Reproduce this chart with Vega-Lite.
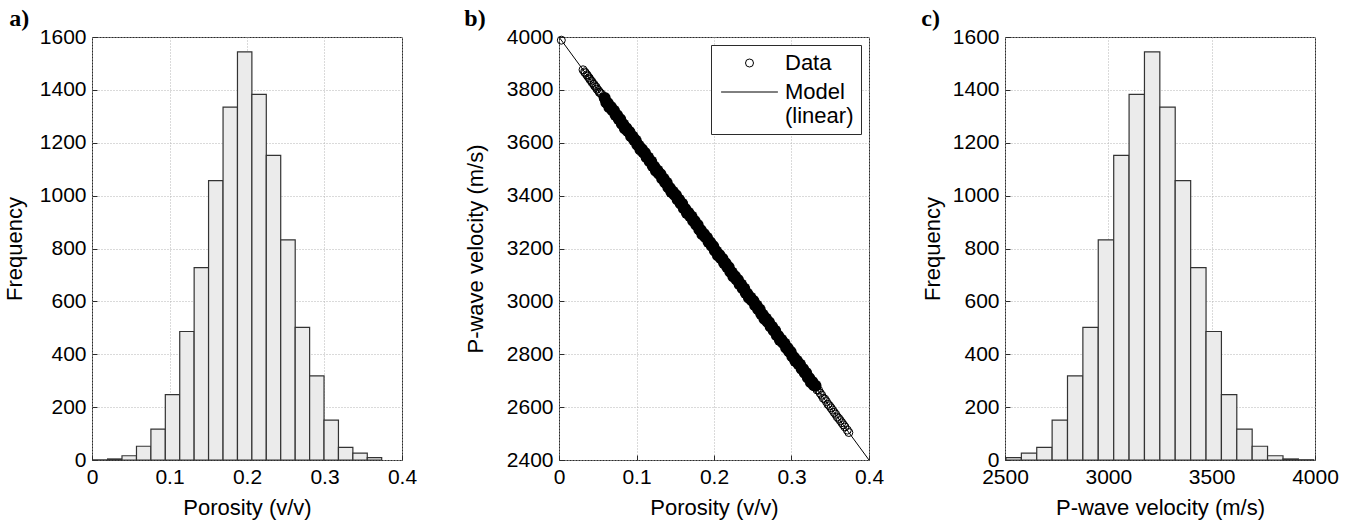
{
  "$schema": "https://vega.github.io/schema/vega-lite/v6.json",
  "background": "white",
  "padding": {"left": 2, "top": 6, "right": 5, "bottom": 5},
  "resolve": {"legend": {"shape": "independent"}},
  "spacing": 45,
  "config": {
    "font": "Liberation Sans",
    "view": {"stroke": "#2b2b2b", "strokeWidth": 1},
    "axis": {
      "labelFont": "Liberation Sans", "labelFontSize": 21, "labelColor": "#000",
      "titleFont": "Liberation Sans", "titleFontSize": 22, "titleFontWeight": "normal", "titleColor": "#000",
      "domain": false, "ticks": true, "tickSize": -5, "tickColor": "#2b2b2b",
      "grid": true, "gridColor": "#b5b5b5", "gridDash": [1, 2], "labelPadding": 11, "labelFlush": false
    },
    "axisX": {"titlePadding": 10},
    "title": {"font": "Liberation Serif", "fontSize": 24, "fontWeight": "bold", "color": "#000", "anchor": "start", "frame": "bounds", "offset": -5}
  },
  "datasets": {
    "hp": [
      {"lo": 0.0015, "hi": 0.0201, "n": 1}, {"lo": 0.0201, "hi": 0.0387, "n": 4}, {"lo": 0.0387, "hi": 0.0574, "n": 16},
      {"lo": 0.0574, "hi": 0.076, "n": 52}, {"lo": 0.076, "hi": 0.0946, "n": 117}, {"lo": 0.0946, "hi": 0.1132, "n": 247},
      {"lo": 0.1132, "hi": 0.1318, "n": 486}, {"lo": 0.1318, "hi": 0.1504, "n": 728}, {"lo": 0.1504, "hi": 0.1691, "n": 1057},
      {"lo": 0.1691, "hi": 0.1877, "n": 1335}, {"lo": 0.1877, "hi": 0.2063, "n": 1544}, {"lo": 0.2063, "hi": 0.2249, "n": 1383},
      {"lo": 0.2249, "hi": 0.2435, "n": 1152}, {"lo": 0.2435, "hi": 0.2622, "n": 833}, {"lo": 0.2622, "hi": 0.2808, "n": 502},
      {"lo": 0.2808, "hi": 0.2994, "n": 318}, {"lo": 0.2994, "hi": 0.318, "n": 151}, {"lo": 0.318, "hi": 0.3366, "n": 48},
      {"lo": 0.3366, "hi": 0.3552, "n": 26}, {"lo": 0.3552, "hi": 0.3738, "n": 9}
    ],
    "hv": [
      {"lo": 2504.8, "hi": 2579.2, "n": 9}, {"lo": 2579.2, "hi": 2653.6, "n": 26}, {"lo": 2653.6, "hi": 2728, "n": 48},
      {"lo": 2728, "hi": 2802.4, "n": 151}, {"lo": 2802.4, "hi": 2876.8, "n": 318}, {"lo": 2876.8, "hi": 2951.2, "n": 502},
      {"lo": 2951.2, "hi": 3026, "n": 833}, {"lo": 3026, "hi": 3100.4, "n": 1152}, {"lo": 3100.4, "hi": 3174.8, "n": 1383},
      {"lo": 3174.8, "hi": 3249.2, "n": 1544}, {"lo": 3249.2, "hi": 3323.6, "n": 1335}, {"lo": 3323.6, "hi": 3398.4, "n": 1057},
      {"lo": 3398.4, "hi": 3472.8, "n": 728}, {"lo": 3472.8, "hi": 3547.2, "n": 486}, {"lo": 3547.2, "hi": 3621.6, "n": 247},
      {"lo": 3621.6, "hi": 3696, "n": 117}, {"lo": 3696, "hi": 3770.4, "n": 52}, {"lo": 3770.4, "hi": 3845.2, "n": 16},
      {"lo": 3845.2, "hi": 3919.6, "n": 4}, {"lo": 3919.6, "hi": 3994, "n": 1}
    ],
    "model": [{"p": 0, "v": 4000}, {"p": 0.4, "v": 2400}],
    "pts": [
      {"p": 0.003, "v": 3988},
      {"p": 0.031, "v": 3876}, {"p": 0.033, "v": 3868}, {"p": 0.034, "v": 3864}, {"p": 0.036, "v": 3857}, {"p": 0.037, "v": 3852},
      {"p": 0.039, "v": 3845}, {"p": 0.04, "v": 3839}, {"p": 0.042, "v": 3833}, {"p": 0.043, "v": 3827}, {"p": 0.045, "v": 3821},
      {"p": 0.046, "v": 3815}, {"p": 0.048, "v": 3810}, {"p": 0.049, "v": 3803}, {"p": 0.051, "v": 3797}, {"p": 0.052, "v": 3791},
      {"p": 0.053, "v": 3789},
      {"p": 0.055, "v": 3784}, {"p": 0.057, "v": 3770}, {"p": 0.059, "v": 3769}, {"p": 0.061, "v": 3752}, {"p": 0.063, "v": 3749},
      {"p": 0.065, "v": 3734}, {"p": 0.067, "v": 3735}, {"p": 0.069, "v": 3723}, {"p": 0.071, "v": 3721}, {"p": 0.073, "v": 3705},
      {"p": 0.075, "v": 3704}, {"p": 0.077, "v": 3690}, {"p": 0.079, "v": 3689}, {"p": 0.081, "v": 3672}, {"p": 0.083, "v": 3669},
      {"p": 0.085, "v": 3654}, {"p": 0.087, "v": 3655}, {"p": 0.089, "v": 3643}, {"p": 0.091, "v": 3641}, {"p": 0.093, "v": 3625},
      {"p": 0.095, "v": 3624}, {"p": 0.097, "v": 3610}, {"p": 0.099, "v": 3609}, {"p": 0.101, "v": 3592}, {"p": 0.103, "v": 3589},
      {"p": 0.105, "v": 3574}, {"p": 0.107, "v": 3575}, {"p": 0.109, "v": 3563}, {"p": 0.111, "v": 3561}, {"p": 0.113, "v": 3545},
      {"p": 0.115, "v": 3544}, {"p": 0.117, "v": 3530}, {"p": 0.119, "v": 3529}, {"p": 0.121, "v": 3512}, {"p": 0.123, "v": 3509},
      {"p": 0.125, "v": 3494}, {"p": 0.127, "v": 3495}, {"p": 0.129, "v": 3483}, {"p": 0.131, "v": 3481}, {"p": 0.133, "v": 3465},
      {"p": 0.135, "v": 3464}, {"p": 0.137, "v": 3450}, {"p": 0.139, "v": 3449}, {"p": 0.141, "v": 3432}, {"p": 0.143, "v": 3429},
      {"p": 0.145, "v": 3414}, {"p": 0.147, "v": 3415}, {"p": 0.149, "v": 3403}, {"p": 0.151, "v": 3401}, {"p": 0.153, "v": 3385},
      {"p": 0.155, "v": 3384}, {"p": 0.157, "v": 3370}, {"p": 0.159, "v": 3369}, {"p": 0.161, "v": 3352}, {"p": 0.163, "v": 3349},
      {"p": 0.165, "v": 3334}, {"p": 0.167, "v": 3335}, {"p": 0.169, "v": 3323}, {"p": 0.171, "v": 3321}, {"p": 0.173, "v": 3305},
      {"p": 0.175, "v": 3304}, {"p": 0.177, "v": 3290}, {"p": 0.179, "v": 3289}, {"p": 0.181, "v": 3272}, {"p": 0.183, "v": 3269},
      {"p": 0.185, "v": 3254}, {"p": 0.187, "v": 3255}, {"p": 0.189, "v": 3243}, {"p": 0.191, "v": 3241}, {"p": 0.193, "v": 3225},
      {"p": 0.195, "v": 3224}, {"p": 0.197, "v": 3210}, {"p": 0.199, "v": 3209}, {"p": 0.201, "v": 3192}, {"p": 0.203, "v": 3189},
      {"p": 0.205, "v": 3174}, {"p": 0.207, "v": 3175}, {"p": 0.209, "v": 3163}, {"p": 0.211, "v": 3161}, {"p": 0.213, "v": 3145},
      {"p": 0.215, "v": 3144}, {"p": 0.217, "v": 3130}, {"p": 0.219, "v": 3129}, {"p": 0.221, "v": 3112}, {"p": 0.223, "v": 3109},
      {"p": 0.225, "v": 3094}, {"p": 0.227, "v": 3095}, {"p": 0.229, "v": 3083}, {"p": 0.231, "v": 3081}, {"p": 0.233, "v": 3065},
      {"p": 0.235, "v": 3064}, {"p": 0.237, "v": 3050}, {"p": 0.239, "v": 3049}, {"p": 0.241, "v": 3032}, {"p": 0.243, "v": 3029},
      {"p": 0.245, "v": 3014}, {"p": 0.247, "v": 3015}, {"p": 0.249, "v": 3003}, {"p": 0.251, "v": 3001}, {"p": 0.253, "v": 2985},
      {"p": 0.255, "v": 2984}, {"p": 0.257, "v": 2970}, {"p": 0.259, "v": 2969}, {"p": 0.261, "v": 2952}, {"p": 0.263, "v": 2949},
      {"p": 0.265, "v": 2934}, {"p": 0.267, "v": 2935}, {"p": 0.269, "v": 2923}, {"p": 0.271, "v": 2921}, {"p": 0.273, "v": 2905},
      {"p": 0.275, "v": 2904}, {"p": 0.277, "v": 2890}, {"p": 0.279, "v": 2889}, {"p": 0.281, "v": 2872}, {"p": 0.283, "v": 2869},
      {"p": 0.285, "v": 2854}, {"p": 0.287, "v": 2855}, {"p": 0.289, "v": 2843}, {"p": 0.291, "v": 2841}, {"p": 0.293, "v": 2825},
      {"p": 0.295, "v": 2824}, {"p": 0.297, "v": 2810}, {"p": 0.299, "v": 2809}, {"p": 0.301, "v": 2792}, {"p": 0.303, "v": 2789},
      {"p": 0.305, "v": 2774}, {"p": 0.307, "v": 2775}, {"p": 0.309, "v": 2763}, {"p": 0.311, "v": 2761}, {"p": 0.313, "v": 2745},
      {"p": 0.315, "v": 2744}, {"p": 0.317, "v": 2730}, {"p": 0.319, "v": 2729}, {"p": 0.321, "v": 2712}, {"p": 0.323, "v": 2709},
      {"p": 0.325, "v": 2694}, {"p": 0.327, "v": 2695}, {"p": 0.329, "v": 2683}, {"p": 0.331, "v": 2681}, {"p": 0.333, "v": 2665},
      {"p": 0.335, "v": 2664},
      {"p": 0.337, "v": 2653}, {"p": 0.339, "v": 2645}, {"p": 0.341, "v": 2634}, {"p": 0.343, "v": 2630}, {"p": 0.345, "v": 2621},
      {"p": 0.347, "v": 2611}, {"p": 0.349, "v": 2605}, {"p": 0.351, "v": 2597}, {"p": 0.353, "v": 2589}, {"p": 0.355, "v": 2580},
      {"p": 0.357, "v": 2573}, {"p": 0.359, "v": 2563}, {"p": 0.361, "v": 2557}, {"p": 0.363, "v": 2549}, {"p": 0.365, "v": 2541},
      {"p": 0.367, "v": 2533}, {"p": 0.369, "v": 2525}, {"p": 0.372, "v": 2513}, {"p": 0.374, "v": 2504}
    ]
  },
  "hconcat": [
    {
      "width": 310, "height": 423,
      "title": {"text": "a)", "dx": 6},
      "data": {"name": "hp"},
      "mark": {"type": "bar", "fill": "#ebebeb", "stroke": "#333333", "strokeWidth": 1.2},
      "encoding": {
        "x": {"field": "lo", "type": "quantitative", "scale": {"domain": [0, 0.4], "nice": false, "padding": 0},
              "axis": {"title": "Porosity (v/v)", "values": [0, 0.1, 0.2, 0.3, 0.4], "format": "~g"}},
        "x2": {"field": "hi"},
        "y": {"field": "n", "type": "quantitative", "scale": {"domain": [0, 1600], "nice": false, "padding": 0},
              "axis": {"title": "Frequency", "values": [0, 200, 400, 600, 800, 1000, 1200, 1400, 1600], "format": "d", "titlePadding": 13}},
        "y2": {"datum": 0}
      }
    },
    {
      "spacing": 35,
      "resolve": {"legend": {"shape": "independent"}},
      "hconcat": [
        {
          "width": 310, "height": 423,
          "title": {"text": "b)"},
          "layer": [
            {
              "data": {"name": "pts"},
              "transform": [{"filter": "datum.p >= 0.058 && datum.p <= 0.332"}],
              "mark": {"type": "point", "filled": true, "size": 144, "color": "#000000", "opacity": 1},
              "encoding": {
                "x": {"field": "p", "type": "quantitative", "scale": {"domain": [0, 0.4], "nice": false, "padding": 0},
                      "axis": {"title": "Porosity (v/v)", "values": [0, 0.1, 0.2, 0.3, 0.4], "format": "~g"}},
                "y": {"field": "v", "type": "quantitative", "scale": {"domain": [2400, 4000], "nice": false, "zero": false, "padding": 0},
                      "axis": {"title": "P-wave velocity (m/s)", "values": [2400, 2600, 2800, 3000, 3200, 3400, 3600, 3800, 4000], "format": "d", "titlePadding": 19}}
              }
            },
            {
              "data": {"name": "pts"},
              "mark": {"type": "point", "filled": false, "size": 64, "strokeWidth": 1, "color": "#000000", "opacity": 1},
              "encoding": {
                "x": {"field": "p", "type": "quantitative", "scale": {"domain": [0, 0.4], "nice": false, "padding": 0}},
                "y": {"field": "v", "type": "quantitative", "scale": {"domain": [2400, 4000], "nice": false, "zero": false, "padding": 0}},
                "shape": {
                  "datum": "Data", "type": "nominal",
                  "scale": {"domain": ["Data", "Model (linear)"], "range": ["circle", "M-7.1,0H7.1"]},
                  "legend": {
                    "title": null, "orient": "top-right", "offset": 8,
                    "labelFont": "Liberation Sans", "labelFontSize": 22, "labelColor": "#000", "labelLimit": 300, "labelOffset": 24.5,
                    "symbolSize": 64, "symbolOffset": 20.5, "symbolStrokeColor": "#000", "symbolStrokeWidth": 1, "symbolFillColor": "transparent",
                    "strokeColor": "#2b2b2b", "fillColor": "white", "padding": 7, "rowPadding": 7,
                    "labelExpr": "datum.value == 'Data' ? 'Data' : ['Model', '(linear)']"
                  }
                }
              }
            },
            {
              "data": {"name": "model"},
              "mark": {"type": "line", "color": "#000000", "strokeWidth": 1},
              "encoding": {
                "x": {"field": "p", "type": "quantitative", "scale": {"domain": [0, 0.4], "nice": false, "padding": 0}},
                "y": {"field": "v", "type": "quantitative", "scale": {"domain": [2400, 4000], "nice": false, "zero": false, "padding": 0}}
              }
            }
          ]
        },
        {
          "width": 310, "height": 423,
          "title": {"text": "c)"},
          "data": {"name": "hv"},
          "mark": {"type": "bar", "fill": "#ebebeb", "stroke": "#333333", "strokeWidth": 1.2},
          "encoding": {
            "x": {"field": "lo", "type": "quantitative", "scale": {"domain": [2500, 4000], "nice": false, "zero": false, "padding": 0},
                  "axis": {"title": "P-wave velocity (m/s)", "values": [2500, 3000, 3500, 4000], "format": "d"}},
            "x2": {"field": "hi"},
            "y": {"field": "n", "type": "quantitative", "scale": {"domain": [0, 1600], "nice": false, "padding": 0},
                  "axis": {"title": "Frequency", "values": [0, 200, 400, 600, 800, 1000, 1200, 1400, 1600], "format": "d", "titlePadding": 8}},
            "y2": {"datum": 0}
          }
        }
      ]
    }
  ]
}
